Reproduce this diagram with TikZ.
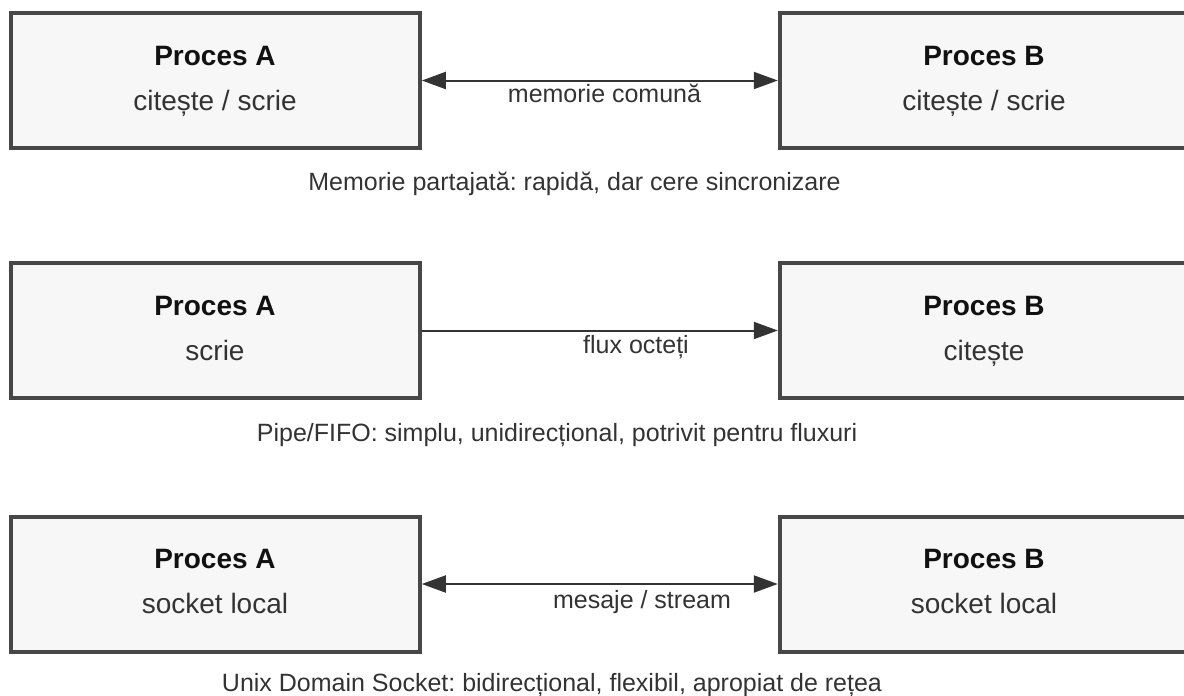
\documentclass[tikz,border=0pt]{standalone}
\usepackage{fontspec}
\setmainfont{Liberation Sans}
\frenchspacing
\usetikzlibrary{arrows.meta}
\definecolor{boxline}{HTML}{474747}
\definecolor{boxfill}{HTML}{F7F7F7}
\definecolor{ink}{HTML}{333333}
\definecolor{titleink}{HTML}{111111}
\begin{document}
\begin{tikzpicture}[x=0.5pt,y=-0.5pt,
  procbox/.style={draw=boxline,fill=boxfill,line width=2pt,
    minimum width=204.5pt,minimum height=67.5pt,inner sep=0pt},
  ptitle/.style={anchor=base,text=titleink,font=\fontsize{14}{16}\selectfont\bfseries},
  psub/.style={anchor=base,text=ink,font=\fontsize{14}{16}\selectfont},
  linklabel/.style={anchor=base,text=ink,font=\fontsize{12.5}{14}\selectfont},
  caption/.style={anchor=base,text=ink,font=\fontsize{12.5}{14}\selectfont},
  link/.style={draw=ink,line width=1pt,
    -{Triangle[length=12pt,width=8.5pt]}},
  biglink/.style={draw=ink,line width=1pt,
    {Triangle[length=12pt,width=8.5pt]}-{Triangle[length=12pt,width=8.5pt]}}]
\useasboundingbox (0,0) rectangle (1184,696);
\begin{scope}
\clip (0,0) rectangle (1184,696);

% Shared memory
\node[procbox] (shmA) at (215.3,80.5) {};
\node[procbox] (shmB) at (984.3,80.5) {};
\node[ptitle] (shmAt) at (215,65) {Proces A};
\node[psub]   (shmAs) at (215,110) {citește / scrie};
\node[ptitle] (shmBt) at (984,65) {Proces B};
\node[psub]   (shmBs) at (984,110) {citește / scrie};
\draw[biglink] (shmA) -- (shmB);
\node[linklabel] (shml) at (604.5,102) {memorie comună};
\node[caption] (shmc) at (574.5,190) {Memorie partajată: rapidă, dar cere sincronizare};

% Pipe / FIFO
\node[procbox] (pipeA) at (215.3,330.5) {};
\node[procbox] (pipeB) at (984.3,330.5) {};
\node[ptitle] (pipeAt) at (215,315) {Proces A};
\node[psub]   (pipeAs) at (215,360) {scrie};
\node[ptitle] (pipeBt) at (984,315) {Proces B};
\node[psub]   (pipeBs) at (984,360) {citește};
\draw[link] (pipeA) -- (pipeB);
\node[linklabel] (pipel) at (636,353) {flux octeți};
\node[caption] (pipec) at (557,441) {Pipe/FIFO: simplu, unidirecțional, potrivit pentru fluxuri};

% Unix domain socket
\node[procbox] (sockA) at (215.3,584) {};
\node[procbox] (sockB) at (984.3,584) {};
\node[ptitle] (sockAt) at (215,568.5) {Proces A};
\node[psub]   (sockAs) at (215,613.5) {socket local};
\node[ptitle] (sockBt) at (984,568.5) {Proces B};
\node[psub]   (sockBs) at (984,613.5) {socket local};
\draw[biglink] (sockA) -- (sockB);
\node[linklabel] (sockl) at (642,608) {mesaje / stream};
\node[caption] (sockc) at (552,691) {Unix Domain Socket: bidirecțional, flexibil, apropiat de rețea};
\end{scope}
\end{tikzpicture}
\end{document}
